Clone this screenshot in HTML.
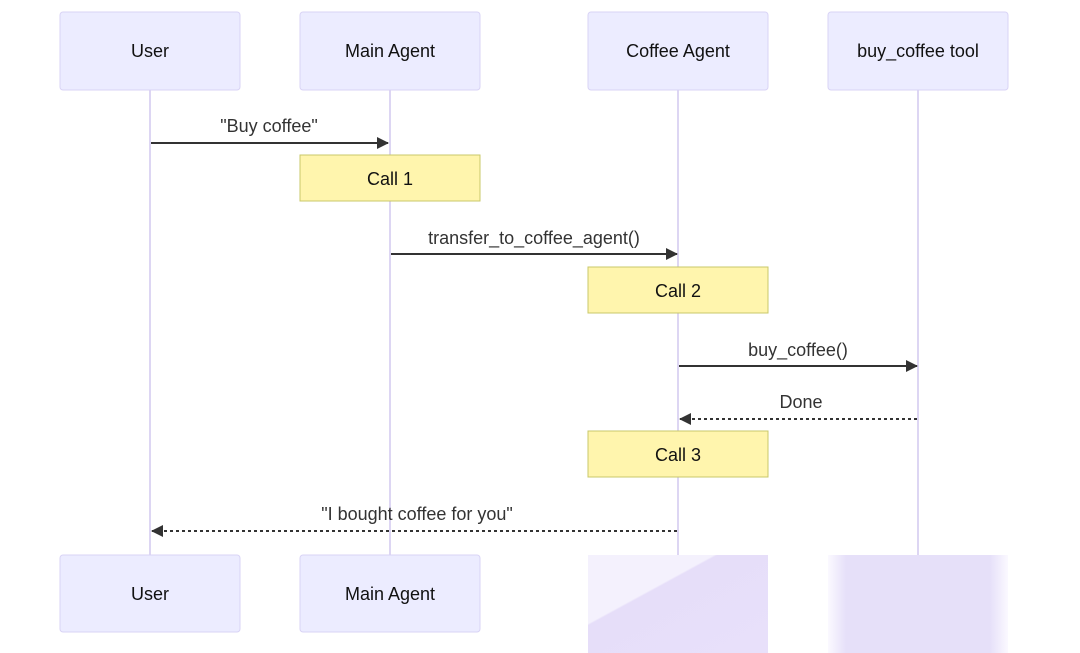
<!DOCTYPE html>
<html><head><meta charset="utf-8"><style>
html,body{margin:0;padding:0;background:#fff;}
svg{display:block;font-family:"Liberation Sans","DejaVu Sans",sans-serif;}
</style></head><body>
<svg width="1080" height="653" viewBox="0 0 1080 653" xmlns="http://www.w3.org/2000/svg">
<defs>
<marker id="a" markerWidth="12" markerHeight="12" refX="11" refY="6" orient="auto" markerUnits="userSpaceOnUse"><path d="M0,0 L12,6 L0,12 z" fill="#333"/></marker>
<linearGradient id="g1" x1="0" y1="0" x2="1" y2="1"><stop offset="0.35" stop-color="#f4f1fd"/><stop offset="0.36" stop-color="#e6def9"/><stop offset="1" stop-color="#e8e0fa"/></linearGradient>
<linearGradient id="g2" x1="0" y1="0" x2="1" y2="0"><stop offset="0" stop-color="#fbf9ff"/><stop offset="0.1" stop-color="#e6e0f9"/><stop offset="0.9" stop-color="#e6e0f9"/><stop offset="1" stop-color="#fbf9ff"/></linearGradient>
</defs>
<g stroke="#ddd6f3" stroke-width="2">
<line x1="150" y1="90" x2="150" y2="555"/><line x1="390" y1="90" x2="390" y2="555"/>
<line x1="678" y1="90" x2="678" y2="555"/><line x1="918" y1="90" x2="918" y2="555"/>
</g>
<g fill="#ececff" stroke="#d9d3f5" stroke-width="1">
<rect x="60" y="12" width="180" height="78" rx="3"/><rect x="300" y="12" width="180" height="78" rx="3"/>
<rect x="588" y="12" width="180" height="78" rx="3"/><rect x="828" y="12" width="180" height="78" rx="3"/>
<rect x="60" y="555" width="180" height="77" rx="3"/><rect x="300" y="555" width="180" height="77" rx="3"/>
</g>
<rect x="588" y="555" width="180" height="98" fill="url(#g1)"/>
<rect x="828" y="555" width="180" height="98" fill="url(#g2)"/>
<g font-size="18" fill="#111" text-anchor="middle">
<text x="150" y="57">User</text><text x="390" y="57">Main Agent</text>
<text x="678" y="57">Coffee Agent</text><text x="918" y="57">buy_coffee tool</text>
<text x="150" y="600">User</text><text x="390" y="600">Main Agent</text>
</g>
<g fill="#fff5ad" stroke="#c8c86a" stroke-width="1">
<rect x="300" y="155" width="180" height="46"/><rect x="588" y="267" width="180" height="46"/><rect x="588" y="431" width="180" height="46"/>
</g>
<g font-size="18" fill="#111" text-anchor="middle">
<text x="390" y="185">Call 1</text><text x="678" y="297">Call 2</text><text x="678" y="461">Call 3</text>
</g>
<g stroke="#333" stroke-width="2" fill="none">
<line x1="151" y1="143" x2="388" y2="143" marker-end="url(#a)"/>
<line x1="391" y1="254" x2="677" y2="254" marker-end="url(#a)"/>
<line x1="679" y1="366" x2="917" y2="366" marker-end="url(#a)"/>
<line x1="917" y1="419" x2="680" y2="419" stroke-dasharray="3,3" marker-end="url(#a)"/>
<line x1="677" y1="531" x2="152" y2="531" stroke-dasharray="3,3" marker-end="url(#a)"/>
</g>
<g font-size="18" fill="#333" text-anchor="middle">
<text x="269" y="132">"Buy coffee"</text>
<text x="534" y="244">transfer_to_coffee_agent()</text>
<text x="798" y="356">buy_coffee()</text>
<text x="801" y="408">Done</text>
<text x="417" y="520">"I bought coffee for you"</text>
</g>
</svg>
</body></html>
